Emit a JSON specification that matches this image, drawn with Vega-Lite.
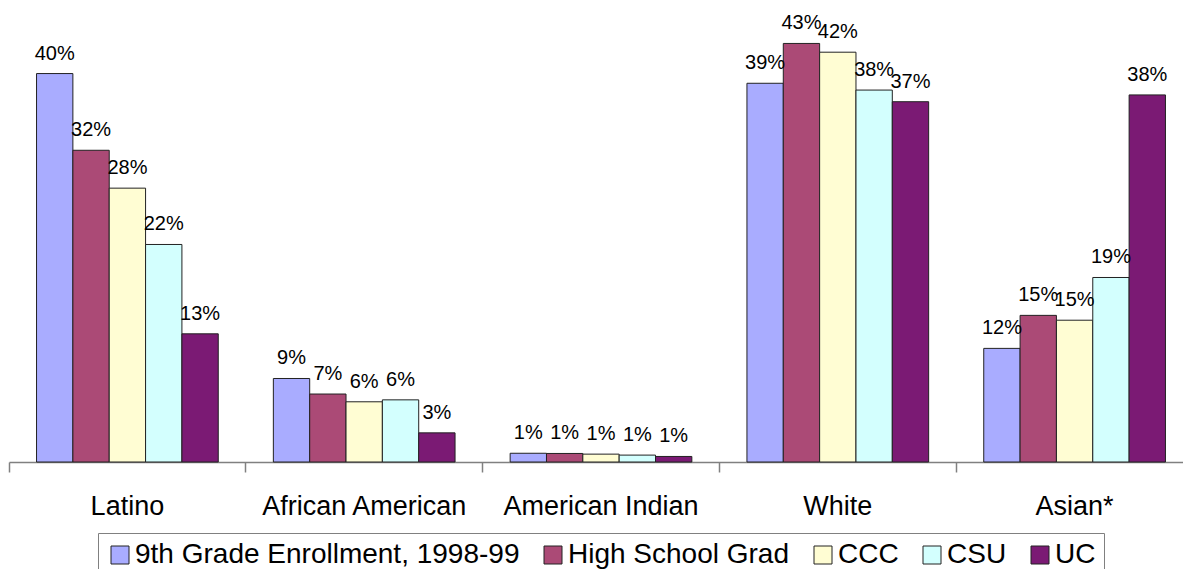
{
  "$schema": "https://vega.github.io/schema/vega-lite/v6.json",
  "width": 1174,
  "height": 437,
  "autosize": {"type": "none"},
  "padding": {"left": 9, "top": 25, "right": 0, "bottom": 107},
  "background": "white",
  "config": {"view": {"stroke": null}, "font": "Liberation Sans"},
  "data": {
    "values": [
      {"group": "Latino", "series": "9th Grade Enrollment, 1998-99", "value": 0.400},
      {"group": "Latino", "series": "High School Grad", "value": 0.321},
      {"group": "Latino", "series": "CCC", "value": 0.282},
      {"group": "Latino", "series": "CSU", "value": 0.224},
      {"group": "Latino", "series": "UC", "value": 0.132},
      {"group": "African American", "series": "9th Grade Enrollment, 1998-99", "value": 0.086},
      {"group": "African American", "series": "High School Grad", "value": 0.070},
      {"group": "African American", "series": "CCC", "value": 0.062},
      {"group": "African American", "series": "CSU", "value": 0.064},
      {"group": "African American", "series": "UC", "value": 0.030},
      {"group": "American Indian", "series": "9th Grade Enrollment, 1998-99", "value": 0.009},
      {"group": "American Indian", "series": "High School Grad", "value": 0.0088},
      {"group": "American Indian", "series": "CCC", "value": 0.0081},
      {"group": "American Indian", "series": "CSU", "value": 0.0071},
      {"group": "American Indian", "series": "UC", "value": 0.0057},
      {"group": "White", "series": "9th Grade Enrollment, 1998-99", "value": 0.390},
      {"group": "White", "series": "High School Grad", "value": 0.431},
      {"group": "White", "series": "CCC", "value": 0.422},
      {"group": "White", "series": "CSU", "value": 0.383},
      {"group": "White", "series": "UC", "value": 0.371},
      {"group": "Asian*", "series": "9th Grade Enrollment, 1998-99", "value": 0.117},
      {"group": "Asian*", "series": "High School Grad", "value": 0.151},
      {"group": "Asian*", "series": "CCC", "value": 0.146},
      {"group": "Asian*", "series": "CSU", "value": 0.190},
      {"group": "Asian*", "series": "UC", "value": 0.378}
    ]
  },
  "encoding": {
    "x": {
      "field": "group",
      "type": "nominal",
      "sort": ["Latino", "African American", "American Indian", "White", "Asian*"],
      "scale": {"paddingInner": 0, "paddingOuter": 0, "range": [0, 1184]},
      "title": null,
      "axis": {
        "labelAngle": 0,
        "labelFontSize": 27,
        "labelColor": "#000000",
        "labelFont": "Liberation Sans",
        "labelPadding": 21,
        "labelLimit": 0,
        "bandPosition": 0,
        "tickSize": 10,
        "tickColor": "#808080",
        "tickWidth": 1.5,
        "domainColor": "#808080",
        "domainWidth": 1.5,
        "grid": false
      }
    },
    "xOffset": {
      "field": "series",
      "type": "nominal",
      "sort": ["9th Grade Enrollment, 1998-99", "High School Grad", "CCC", "CSU", "UC"],
      "scale": {"paddingInner": 0, "paddingOuter": 0.758}
    },
    "y": {
      "field": "value",
      "type": "quantitative",
      "scale": {"domain": [0, 0.45], "nice": false},
      "axis": null
    }
  },
  "layer": [
    {
      "mark": {"type": "bar", "stroke": "#222222", "strokeWidth": 1},
      "encoding": {
        "color": {
          "field": "series",
          "type": "nominal",
          "scale": {
            "domain": ["9th Grade Enrollment, 1998-99", "High School Grad", "CCC", "CSU", "UC"],
            "range": ["#a9acff", "#ab4a76", "#fffdd3", "#d3fffe", "#7b1a74"]
          },
          "legend": {
            "title": null,
            "orient": "none",
            "direction": "horizontal",
            "legendX": 89,
            "legendY": 508,
            "padding": 8,
            "strokeColor": "#808080",
            "fillColor": "#ffffff",
            "symbolType": "square",
            "symbolSize": 324,
            "symbolStrokeColor": "#222222",
            "symbolStrokeWidth": 1,
            "symbolOpacity": 1,
            "labelFontSize": 28,
            "labelFont": "Liberation Sans",
            "labelColor": "#000000",
            "labelOffset": 1,
            "labelLimit": 0,
            "columnPadding": 19
          }
        }
      }
    },
    {
      "mark": {"type": "text", "baseline": "bottom", "dy": -10, "fontSize": 20, "font": "Liberation Sans", "color": "#000000"},
      "encoding": {
        "text": {"field": "value", "type": "quantitative", "format": ".0%"}
      }
    }
  ]
}
